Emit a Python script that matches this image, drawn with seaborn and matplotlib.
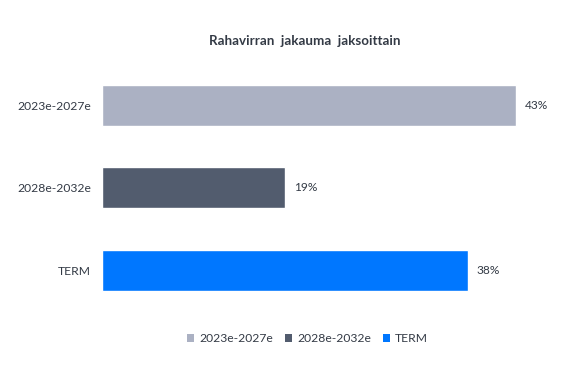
import matplotlib
matplotlib.use("Agg")
import matplotlib.pyplot as plt
import seaborn as sns
import pandas as pd
from matplotlib.patches import Patch

# --- data ---
jaksot = ["2023e-2027e", "2028e-2032e", "TERM"]
osuudet = [43, 19, 38]
varit = ["#abb1c3", "#525c6e", "#0077ff"]

df = pd.DataFrame({"jakso": jaksot, "osuus": osuudet})

sns.set_theme(style="white")
plt.rcParams["font.family"] = ["Lato", "DejaVu Sans"]

fig = plt.figure(figsize=(5.73, 3.86), dpi=100)
ax = fig.add_axes([102 / 573, 0.1937, (559 - 102) / 573, 0.8333 - 0.1937])

sns.barplot(data=df, x="osuus", y="jakso", hue="jakso", palette=varit,
            width=0.5, legend=False, ax=ax, saturation=1)

for i, v in enumerate(osuudet):
    ax.text(v + 0.95, i, f"{v}%", va="center", ha="left", fontsize=8.6, color="#333a45")

ax.set_xlim(0, 47.5)
ax.set_ylim(2.5, -0.5)
ax.set_xlabel("")
ax.set_ylabel("")
ax.set_xticks([])
ax.tick_params(axis="y", length=0, pad=8, labelsize=8.7, labelcolor="#333a45")
sns.despine(ax=ax, left=True, bottom=True)

fig.text(0.531, 0.893, "Rahavirran  jakauma  jaksoittain", ha="center", va="center",
         fontsize=9.6, fontweight="bold", color="#333a45")

handles = [Patch(facecolor=c, edgecolor="none", label=l) for l, c in zip(jaksot, varit)]
fig.legend(handles=handles, loc="center", bbox_to_anchor=(0.537, 0.122), ncol=3,
           frameon=False, fontsize=8.7, handlelength=0.6, handleheight=0.6,
           handletextpad=0.4, columnspacing=1.0, labelcolor="#333a45")

fig.savefig("out.png", dpi=100, facecolor="white")
